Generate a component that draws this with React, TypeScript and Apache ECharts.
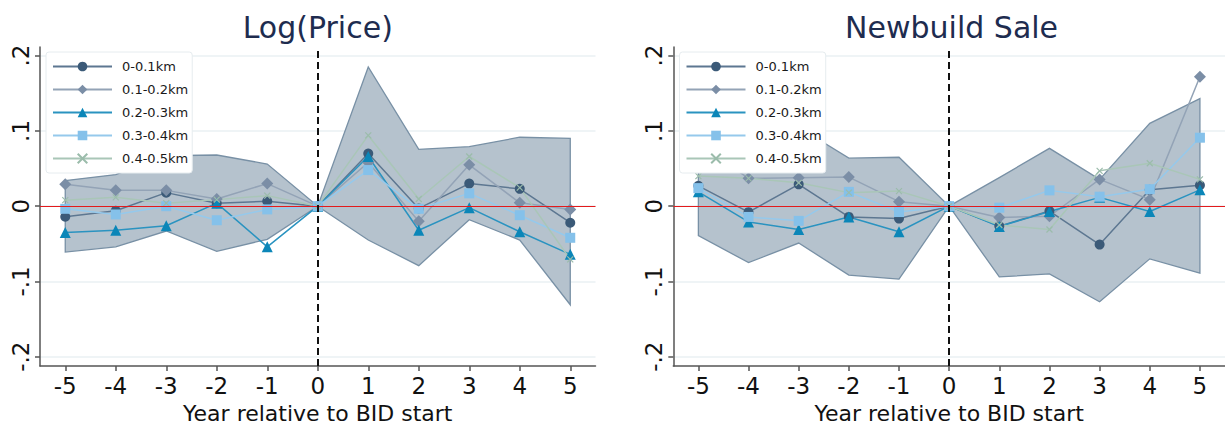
import React, { useEffect, useRef } from "react";
import * as echarts from "echarts";

const years = ["-5", "-4", "-3", "-2", "-1", "0", "1", "2", "3", "4", "5"];
const seriesNames = ["0-0.1km", "0.1-0.2km", "0.2-0.3km", "0.3-0.4km", "0.4-0.5km"];
const yTicks = [-0.2, -0.1, 0, 0.1, 0.2];
const yTickLabels = ["-.2", "-.1", "0", ".1", ".2"];
const panelTitles = ["Log(Price)", "Newbuild Sale"];
const xAxisTitle = "Year relative to BID start";

// Log(Price)
const priceS1 = [-0.014, -0.006, 0.018, 0.004, 0.0065, 0, 0.07, -0.003, 0.03, 0.023, -0.022];
const priceS2 = [0.029, 0.021, 0.021, 0.0095, 0.03, 0, 0.058, -0.02, 0.055, 0.0045, -0.0045];
const priceS3 = [-0.035, -0.032, -0.026, 0.004, -0.054, 0, 0.066, -0.032, -0.002, -0.034, -0.064];
const priceS4 = [-0.0035, -0.011, 0, -0.0187, -0.0043, 0, 0.048, -0.0035, 0.017, -0.012, -0.042];
const priceS5 = [0.008, 0.0117, 0.004, 0.0087, 0.014, 0, 0.094, 0.0095, 0.066, 0.0247, -0.0707];
const priceUpper = [0.034, 0.042, 0.067, 0.068, 0.056, 0, 0.185, 0.0755, 0.079, 0.0916, 0.09];
const priceLower = [-0.061, -0.054, -0.033, -0.06, -0.044, 0, -0.045, -0.079, -0.018, -0.045, -0.131];

// Newbuild Sale
const saleS1 = [0.027, -0.008, 0.029, -0.0143, -0.0165, 0, -0.0265, -0.0065, -0.051, 0.0217, 0.0278];
const saleS2 = [0.083, 0.037, 0.0378, 0.0386, 0.006, 0, -0.015, -0.0134, 0.0356, 0.0087, 0.172];
const saleS3 = [0.019, -0.021, -0.031, -0.0143, -0.034, 0, -0.027, -0.007, 0.0117, -0.007, 0.0217];
const saleS4 = [0.024, -0.0143, -0.0195, 0.019, -0.0078, 0, -0.002, 0.021, 0.0126, 0.0226, 0.091];
const saleS5 = [0.04, 0.037, 0.031, 0.018, 0.02, 0, -0.025, -0.031, 0.047, 0.057, 0.0356];
const saleUpper = [0.093, 0.059, 0.105, 0.0638, 0.065, 0, 0.038, 0.0768, 0.0356, 0.11, 0.143];
const saleLower = [-0.039, -0.075, -0.049, -0.0915, -0.097, 0, -0.094, -0.09, -0.127, -0.07, -0.089];

const panels = [
  { series: [priceS1, priceS2, priceS3, priceS4, priceS5], upper: priceUpper, lower: priceLower },
  { series: [saleS1, saleS2, saleS3, saleS4, saleS5], upper: saleUpper, lower: saleLower },
];

const FONT = "DejaVu Sans";
const markerColors = ["#3b5a78", "#7b8ea6", "#0b86b8", "#85c1ea", "#9bbcab"];
const lineColors = ["#5d7791", "#93a3b6", "#2a93c0", "#95c9ec", "#a9c6b7"];
const symbols = ["circle", "diamond", "triangle", "rect", "path://M0,0L10,10M10,0L0,10"];
const symbolSizes = [10, 12, 11, 10, 6];

const grids = [
  { left: 40, top: 47, width: 555.5, height: 325 },
  { left: 673.3, top: 47, width: 556.6, height: 325 },
];
const legendLefts = [46, 679.5];

function buildOption() {
  const series: any[] = [];
  panels.forEach((p, k) => {
    const upper = p.upper;
    const lower = p.lower;
    series.push({
      type: "custom",
      xAxisIndex: k,
      yAxisIndex: k,
      z: 1,
      silent: true,
      data: years.map((_, i) => [i, lower[i], upper[i]]),
      encode: { x: 0, y: [1, 2] },
      renderItem: (params: any, api: any) => {
        if (params.dataIndex !== 0) return null;
        const top = upper.map((v, i) => api.coord([i, v]));
        const bot = lower.map((v, i) => api.coord([i, v])).reverse();
        return {
          type: "polygon",
          shape: { points: top.concat(bot) },
          style: { fill: "#b5c2cd", stroke: "#7890a5", lineWidth: 1.3 },
        };
      },
    });
    series.push({
      type: "line",
      xAxisIndex: k,
      yAxisIndex: k,
      z: 2,
      silent: true,
      color: "#e31a1c",
      data: [],
      markLine: {
        silent: true,
        symbol: ["none", "none"],
        label: { show: false },
        lineStyle: { color: "#e31a1c", width: 1.2, type: "solid" },
        emphasis: { disabled: true },
        data: [{ yAxis: 0 }],
      },
    });
    series.push({
      type: "line",
      xAxisIndex: k,
      yAxisIndex: k,
      z: 2,
      silent: true,
      color: "#111111",
      data: [],
      markLine: {
        silent: true,
        symbol: ["none", "none"],
        label: { show: false },
        lineStyle: { color: "#111111", width: 2, type: [7, 4] },
        emphasis: { disabled: true },
        data: [{ xAxis: years.indexOf("0") }],
      },
    });
    p.series.forEach((d, j) => {
      series.push({
        type: "line",
        name: seriesNames[j],
        xAxisIndex: k,
        yAxisIndex: k,
        z: 3,
        data: d,
        symbol: symbols[j],
        symbolSize: symbolSizes[j],
        showSymbol: true,
        lineStyle: { color: lineColors[j], width: 1.5 },
        itemStyle:
          j === 4
            ? { color: markerColors[j], borderColor: markerColors[j], borderWidth: 1.2 }
            : { color: markerColors[j] },
        emphasis: { disabled: true },
      });
    });
  });

  return {
    animation: false,
    backgroundColor: "#fff",
    textStyle: { fontFamily: FONT },
    graphic: panelTitles.map((t, k) => ({
      type: "text",
      x: grids[k].left + grids[k].width / 2,
      y: 27,
      style: {
        text: t,
        align: "center",
        verticalAlign: "middle",
        fontFamily: FONT,
        fontSize: 30,
        fill: "#1e2c4f",
      },
    })),
    legend: legendLefts.map((l) => ({
      data: seriesNames,
      orient: "vertical",
      left: l,
      top: 52,
      z: 10,
      itemWidth: 59,
      itemHeight: 12,
      itemGap: 10,
      padding: [8, 4, 8, 6],
      backgroundColor: "#fff",
      borderColor: "#e6ecef",
      borderWidth: 1,
      borderRadius: 3,
      selectedMode: false,
      textStyle: { fontFamily: FONT, fontSize: 13, color: "#1a1a1a", padding: [0, 0, 0, 5] },
    })),
    grid: grids,
    xAxis: grids.map((_, k) => ({
      type: "category",
      gridIndex: k,
      data: years,
      boundaryGap: true,
      name: xAxisTitle,
      nameLocation: "middle",
      nameGap: 27,
      nameTextStyle: { fontFamily: FONT, fontSize: 22, color: "#111" },
      axisLine: { show: true, onZero: false, lineStyle: { color: "#555", width: 1.5 } },
      axisTick: { show: true, alignWithLabel: true, length: 5, lineStyle: { color: "#555", width: 1.5 } },
      axisLabel: { interval: 0, fontFamily: FONT, fontSize: 23, color: "#111", margin: 8 },
      splitLine: { show: false },
    })),
    yAxis: grids.map((_, k) => ({
      type: "value",
      gridIndex: k,
      min: -0.2125,
      max: 0.2115,
      axisLine: { show: true, onZero: false, lineStyle: { color: "#555", width: 1.5 } },
      axisTick: { show: true, length: 5, customValues: yTicks, lineStyle: { color: "#555", width: 1.5 } },
      axisLabel: {
        customValues: yTicks,
        rotate: 90,
        fontFamily: FONT,
        fontSize: 23,
        color: "#111",
        margin: 8,
        formatter: (v: number) => {
          const i = yTicks.findIndex((t) => Math.abs(t - v) < 1e-9);
          return i >= 0 ? yTickLabels[i] : "";
        },
      },
      splitLine: { show: true, lineStyle: { color: "#eaf0f3", width: 1.5 } },
    })),
    series,
  };
}

export default function App() {
  const ref = useRef<HTMLDivElement>(null);
  useEffect(() => {
    if (!ref.current) return;
    const chart = echarts.init(ref.current, undefined, { renderer: "svg" });
    chart.setOption(buildOption() as any);
    return () => chart.dispose();
  }, []);
  return (
    <div
      ref={ref}
      style={{ position: "fixed", left: 0, top: 0, width: 1225, height: 429, background: "#fff" }}
    />
  );
}
